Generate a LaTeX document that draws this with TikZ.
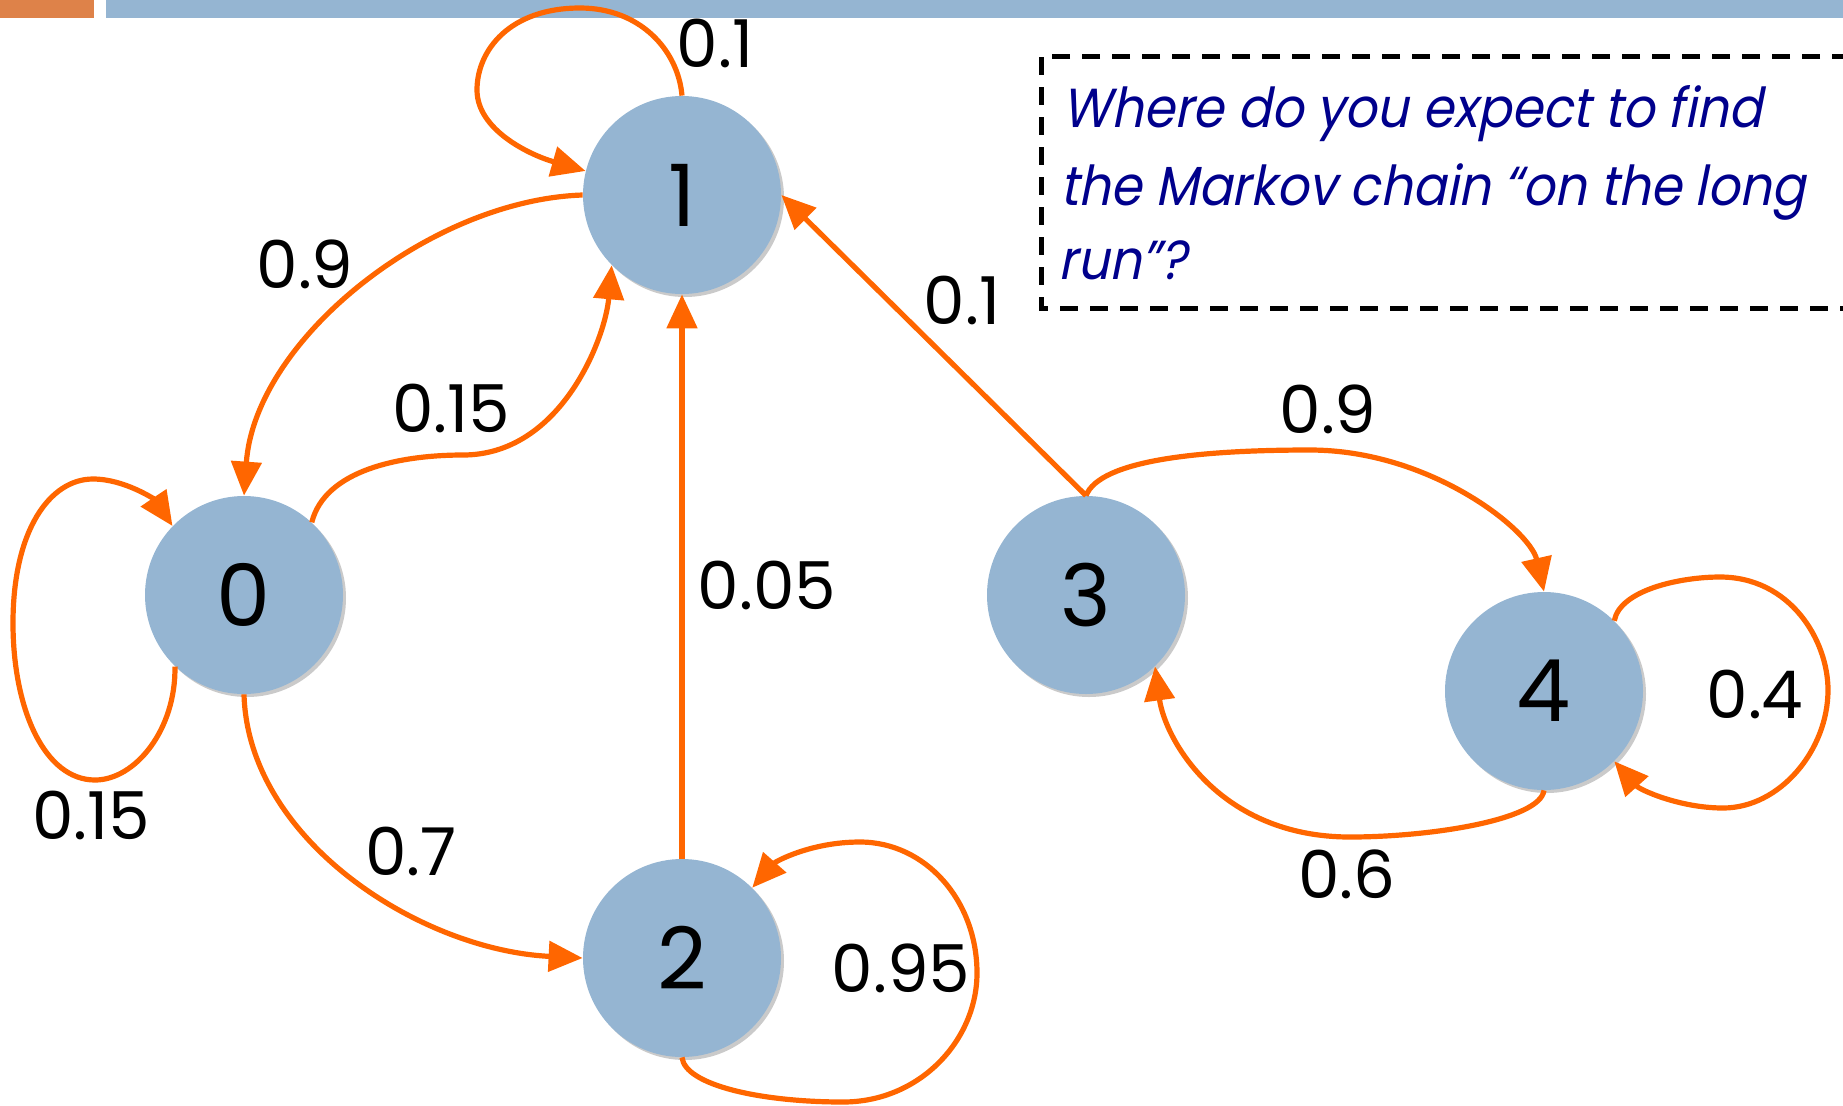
\documentclass[tikz,border=0pt]{standalone}
\usepackage{fontspec}
\setmainfont{Poppins}
\newfontfamily\boxfont[AutoFakeSlant=0.2,FakeStretch=0.91]{Poppins}
\usetikzlibrary{arrows.meta,shadows}
\definecolor{nodeblue}{RGB}{149,181,210}
\definecolor{barorange}{RGB}{222,130,73}
\definecolor{edgeorange}{RGB}{255,102,0}
\definecolor{textblue}{RGB}{0,0,140}
\tikzset{
  state/.style={circle,fill=nodeblue,minimum size=99pt,inner sep=0pt,
    font=\fontsize{43}{50}\selectfont,
    drop shadow={shadow xshift=1.5pt,shadow yshift=-1.5pt,opacity=0.35,fill=black!60}},
  edge/.style={draw=edgeorange,line width=2.6pt,-{Triangle[length=17pt,width=15pt]}},
  prob/.style={font=\fontsize{33}{40}\selectfont,inner sep=0pt},
  qline/.style={font=\boxfont\itshape\fontsize{27.5}{34}\selectfont,color=textblue,inner sep=0pt,anchor=base west},
  qbox/.style={black,line width=2.5pt,dash pattern=on 9pt off 6pt}
}
\begin{document}
\begin{tikzpicture}[x=0.5pt,y=-0.5pt]
\useasboundingbox (0,0) rectangle (1843,1105);
% top bars
\fill[barorange] (0,0) rectangle (94,18);
\fill[nodeblue] (106,0) rectangle (1843,18);
% dashed box
\begin{scope}
\clip (0,0) rectangle (1843,1105);
\draw[qbox] (1850,56) -- (1041,56) -- (1041,308) -- (1850,308);
\end{scope}
\node[qline] (q1) at (1062,127) {Where do you expect to find};
\node[qline] (q2) at (1060,205) {the Markov chain “on the long};
\node[qline] (q3) at (1058,279) {run”?};
% states
\node[state] (n0) at (244,595) {0};
\node[state] (n1) at (682,195) {1};
\node[state] (n2) at (682,958) {2};
\node[state] (n3) at (1086,595) {3};
\node[state] (n4) at (1544,691) {4};
% edges
\draw[edge] (n1.north) .. controls (678,50) and (640,8) .. (580,8)
  .. controls (510,8) and (477,50) .. (477,90)
  .. controls (477,130) and (530,155) .. (n1.166);
\draw[edge] (n1.west) .. controls (430,200) and (255,340) .. (n0.north);
\draw[edge] (n0.47) .. controls (325,470) and (400,455) .. (463,455)
  .. controls (560,455) and (605,340) .. (n1.225);
\draw[edge] (n0.226) .. controls (176,730) and (135,780) .. (95,780)
  .. controls (45,780) and (13,710) .. (13,623)
  .. controls (13,530) and (50,479) .. (93,479)
  .. controls (125,479) and (155,500) .. (n0.136);
\draw[edge] (n0.south) .. controls (248,840) and (420,950) .. (n2.west);
\draw[edge] (n2.north) -- (n1.south);
\draw[edge] (n2.south) .. controls (685,1085) and (760,1102) .. (843,1102)
  .. controls (920,1102) and (977,1040) .. (977,973)
  .. controls (977,900) and (925,842) .. (860,842)
  .. controls (810,842) and (775,862) .. (n2.45);
\draw[edge] (n3.north) -- (n1.east);
\draw[edge] (n3.north) .. controls (1100,460) and (1200,450) .. (1310,450)
  .. controls (1430,450) and (1530,530) .. (n4.north);
\draw[edge] (n4.south) .. controls (1540,820) and (1430,837) .. (1350,837)
  .. controls (1220,837) and (1165,740) .. (n3.-46);
\draw[edge] (n4.45) .. controls (1620,590) and (1680,577) .. (1720,577)
  .. controls (1790,577) and (1828,640) .. (1828,690)
  .. controls (1828,750) and (1780,808) .. (1723,808)
  .. controls (1680,808) and (1640,790) .. (n4.-45);
% labels
\node[prob] (l11) at (715,43) {0.1};
\node[prob] (l10) at (305,264) {0.9};
\node[prob] (l01) at (451,408) {0.15};
\node[prob] (l00) at (91,815) {0.15};
\node[prob] (l02) at (411,851) {0.7};
\node[prob] (l21) at (767,585) {0.05};
\node[prob] (l22) at (901,968) {0.95};
\node[prob] (l31) at (962,300) {0.1};
\node[prob] (l34) at (1328,409) {0.9};
\node[prob] (l43) at (1347,874) {0.6};
\node[prob] (l44) at (1755,694) {0.4};
\end{tikzpicture}
\end{document}
